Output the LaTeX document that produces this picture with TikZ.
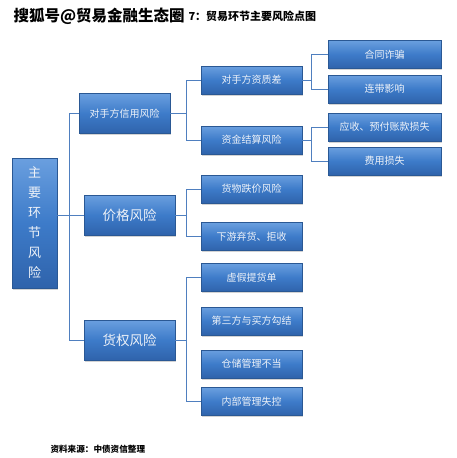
\documentclass[tikz,border=0pt]{standalone}
\usepackage{fontspec}
\newfontfamily\cjk{Noto Sans CJK SC}
\usetikzlibrary{shadows}
\definecolor{boxmid}{HTML}{3D7BC9}
\definecolor{boxtop}{HTML}{6A9FDF}
\definecolor{boxbot}{HTML}{2F63AB}
\definecolor{boxline}{HTML}{2A5894}
\definecolor{linkblue}{HTML}{4F7FBF}
\definecolor{boxtext}{HTML}{EEF2F8}
\begin{document}
\begin{tikzpicture}[x=1pt,y=-1pt,
    riskbox/.style={rectangle, draw=boxline, line width=0.4pt, top color=boxtop, bottom color=boxbot, middle color=boxmid, text=boxtext, inner sep=0pt, drop shadow={shadow xshift=1.2pt, shadow yshift=-1.5pt, opacity=0.35}},
    rootbox/.style={riskbox, minimum width=45pt, minimum height=130pt, align=center, font=\cjk\fontsize{13}{20}\selectfont},
    mainbox/.style={riskbox, minimum width=91pt, minimum height=40pt},
    subbox/.style={riskbox, minimum width=101pt, minimum height=28pt, font=\cjk\fontsize{10}{12}\selectfont},
    leafbox/.style={riskbox, minimum width=113pt, minimum height=28pt, font=\cjk\fontsize{10}{12}\selectfont},
    link/.style={draw=linkblue, line width=0.9pt}]
        \useasboundingbox (0,0) rectangle (457,458);
        \node[anchor=west, font=\cjk\bfseries\fontsize{15.5}{18}\selectfont] (mark) at (10,16) {搜狐号@贸易金融生态圈};
        \node[anchor=west, font=\cjk\bfseries\fontsize{11}{13}\selectfont] (title) at (185,16) {7：贸易环节主要风险点图};
        \node[anchor=west, font=\cjk\bfseries\fontsize{8.6}{10}\selectfont] (source) at (47,449) {资料来源：中债资信整理};

        \node[rootbox] (root) at (34.5,223) {主\\要\\环\\节\\风\\险};
        \node[mainbox, font=\cjk\fontsize{10}{12}\selectfont] (xinyong) at (124.5,113.5) {对手方信用风险};
        \node[mainbox, font=\cjk\fontsize{13.5}{15}\selectfont] (jiage) at (129.5,215) {价格风险};
        \node[mainbox, font=\cjk\fontsize{13.5}{15}\selectfont] (huoquan) at (129.5,340) {货权风险};

        \node[subbox] (zizhi) at (251.5,80) {对手方资质差};
        \node[subbox] (jiesuan) at (251.5,140) {资金结算风险};
        \node[subbox] (diejia) at (251.5,189) {货物跌价风险};
        \node[subbox] (qihuo) at (251.5,236.5) {下游弃货、拒收};
        \node[subbox] (xujia) at (251.5,277.5) {虚假提货单};
        \node[subbox] (goujie) at (251.5,321) {第三方与买方勾结};
        \node[subbox] (cangchu) at (251.5,364) {仓储管理不当};
        \node[subbox] (neibu) at (251.5,401.5) {内部管理失控};

        \node[leafbox] (zhapian) at (384.5,54.5) {合同诈骗};
        \node[leafbox] (liandai) at (384.5,89) {连带影响};
        \node[leafbox] (yingshou) at (384.5,127) {应收、预付账款损失};
        \node[leafbox] (feiyong) at (384.5,161) {费用损失};

        \draw[link] (root.east |- jiage.west) -- (jiage.west);
        \draw[link] (xinyong.west) -- ++(-9,0) |- (huoquan.west);
        \draw[link] (xinyong.east) -- ++(17,0);
        \draw[link] (zizhi.west) -- ++(-14,0) |- (jiesuan.west);
        \draw[link] (jiage.east) -- ++(12,0);
        \draw[link] (diejia.west) -- ++(-14,0) |- (qihuo.west);
        \draw[link] (huoquan.east) -- ++(12,0);
        \draw[link] (xujia.west) -- ++(-14,0) |- (neibu.west);
        \draw[link] (zizhi.east) -- ++(10,0);
        \draw[link] (zhapian.west) -- ++(-16,0) |- (liandai.west);
        \draw[link] (jiesuan.east) -- ++(10,0);
        \draw[link] (yingshou.west) -- ++(-16,0) |- (feiyong.west);
    \end{tikzpicture}
\end{document}
